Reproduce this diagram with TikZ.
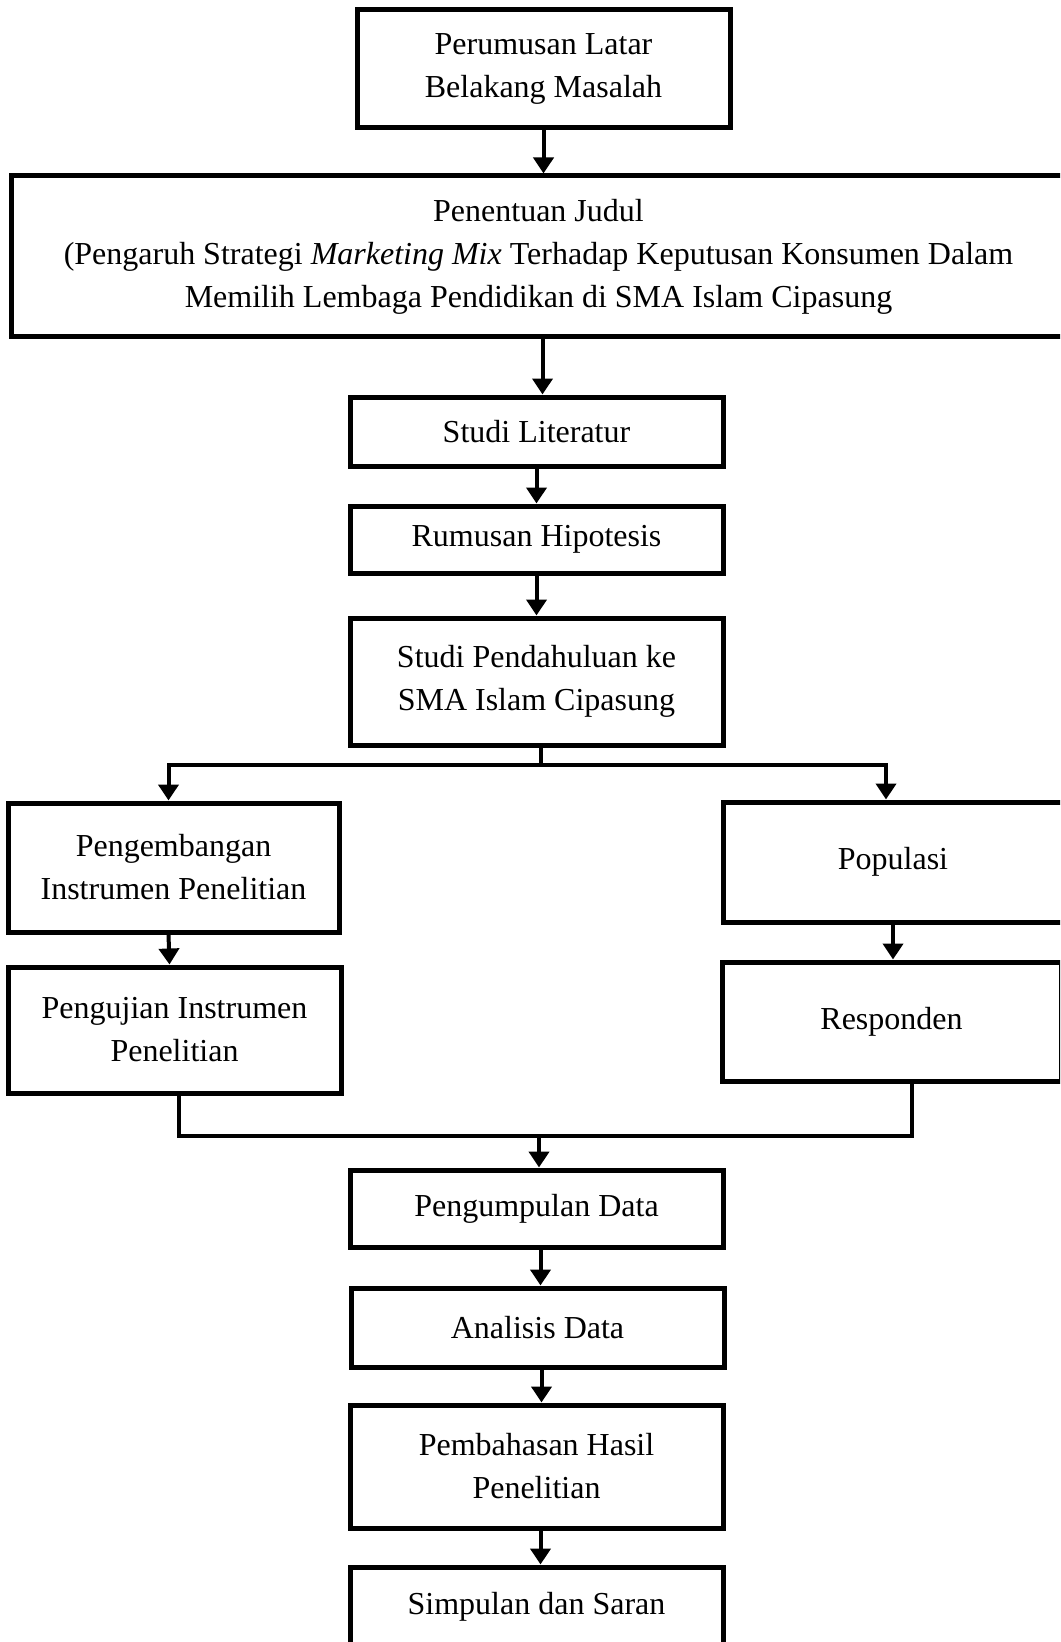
\documentclass[tikz,border=0pt]{standalone}
\usepackage{fontspec}
\setmainfont{Liberation Serif}
\usetikzlibrary{arrows.meta}
\tikzset{
kotak/.style={draw, line width=2.5pt, align=center, inner sep=0pt, font=\fontsize{16}{21.5}\selectfont},
panah/.style={-{Triangle[length=8pt,width=10pt]}, line width=2pt},
garis/.style={line width=2pt}
}
\begin{document}
\begin{tikzpicture}[x=0.5pt, y=-0.5pt]
\useasboundingbox (0,0) rectangle (1060,1642);
\clip (0,0) rectangle (1060,1642);
\node[kotak, minimum width=186.5pt, minimum height=59pt] (latar) at (543.5,69) {Perumusan Latar\\Belakang Masalah};
\node[kotak, minimum width=527.5pt, minimum height=80.5pt] (judul) at (538.5,256.5) {Penentuan Judul\\(Pengaruh Strategi \textit{Marketing Mix} Terhadap Keputusan Konsumen Dalam\\Memilih Lembaga Pendidikan di SMA Islam Cipasung};
\node[kotak, minimum width=186.5pt, minimum height=34.5pt] (literatur) at (536.5,431.5) {Studi Literatur};
\node[kotak, minimum width=186.5pt, minimum height=33.5pt] (hipotesis) at (536.5,539.5) {Rumusan Hipotesis};
\node[kotak, minimum width=186.5pt, minimum height=63.5pt] (pendahuluan) at (536.5,681.5) {Studi Pendahuluan ke\\SMA Islam Cipasung};
\node[kotak, minimum width=165.5pt, minimum height=64.5pt] (pengembangan) at (173.5,867.5) {Pengembangan\\Instrumen Penelitian};
\node[kotak, minimum width=166.5pt, minimum height=63pt] (pengujian) at (174.5,1030) {Pengujian Instrumen\\Penelitian};
\node[kotak, minimum width=170pt, minimum height=60pt] (populasi) at (893,862) {Populasi};
\node[kotak, minimum width=169.5pt, minimum height=59.5pt] (responden) at (891.5,1021.5) {Responden};
\node[kotak, minimum width=186.5pt, minimum height=38.5pt] (pengumpulan) at (536.5,1208.5) {Pengumpulan Data};
\node[kotak, minimum width=186.5pt, minimum height=39.5pt] (analisis) at (537.5,1327.5) {Analisis Data};
\node[kotak, minimum width=186.5pt, minimum height=61.5pt] (pembahasan) at (536.5,1466.5) {Pembahasan Hasil\\Penelitian};
\node[kotak, minimum width=186.5pt, minimum height=39.5pt] (simpulan) at (536.5,1606.5) {Simpulan dan Saran};
\coordinate (cabang) at (541,765);
\coordinate (gabung) at (539,1136);
\draw[panah] (latar.south) -- (latar.south |- judul.north);
\draw[panah] ([xshift=2pt]judul.south) -- ([xshift=2pt]judul.south |- literatur.north);
\draw[panah] (literatur.south) -- (hipotesis.north);
\draw[panah] (hipotesis.south) -- (pendahuluan.north);
\draw[garis] (pendahuluan.south -| cabang) -- (cabang);
\draw[panah] (cabang) -| ([xshift=-2.5pt]pengembangan.north);
\draw[panah] (cabang) -| ([xshift=-3.5pt]populasi.north);
\draw[panah] ([xshift=-2.5pt]pengembangan.south) -- ([xshift=-2.5pt]pengujian.north);
\draw[panah] (populasi.south) -- (populasi.south |- responden.north);
\draw[garis] ([xshift=2pt]pengujian.south) |- (gabung) -| ([xshift=10pt]responden.south);
\draw[panah] (gabung) -- (gabung |- pengumpulan.north);
\draw[panah] ([xshift=2pt]pengumpulan.south) -- ([xshift=2pt]pengumpulan.south |- analisis.north);
\draw[panah] ([xshift=2pt]analisis.south) -- ([xshift=2pt]analisis.south |- pembahasan.north);
\draw[panah] ([xshift=2pt]pembahasan.south) -- ([xshift=2pt]pembahasan.south |- simpulan.north);
\end{tikzpicture}
\end{document}
